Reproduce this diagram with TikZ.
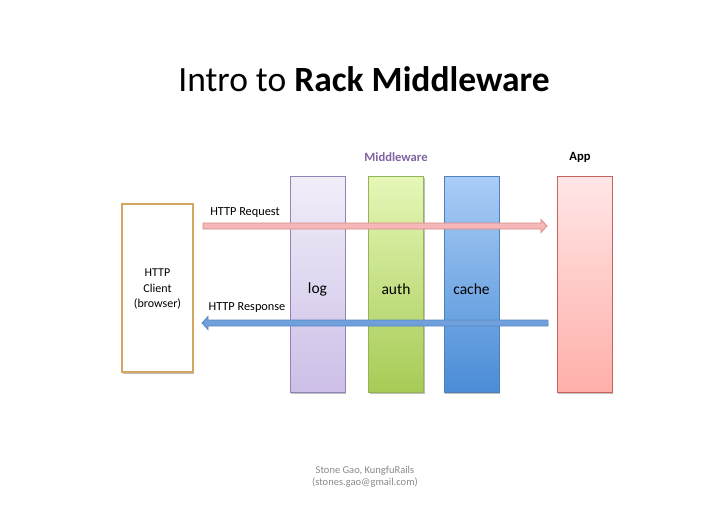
\documentclass[tikz,border=0pt]{standalone}
\usepackage{fontspec}
\setmainfont{Carlito}
\usetikzlibrary{shadows,calc}
\definecolor{clientborder}{HTML}{D5A562}
\definecolor{logtop}{HTML}{F1EEF9}
\definecolor{logbot}{HTML}{CDBFE7}
\definecolor{logborder}{HTML}{9483B8}
\definecolor{authtop}{HTML}{E6F7B8}
\definecolor{authbot}{HTML}{A6CB55}
\definecolor{authborder}{HTML}{93B557}
\definecolor{cachetop}{HTML}{AACDF6}
\definecolor{cachebot}{HTML}{4A8CD6}
\definecolor{cacheborder}{HTML}{4F81BD}
\definecolor{apptop}{HTML}{FFE6E6}
\definecolor{appbot}{HTML}{FFAFA9}
\definecolor{appborder}{HTML}{C8625E}
\definecolor{reqfill}{HTML}{F5B7B7}
\definecolor{reqborder}{HTML}{D78A88}
\definecolor{resfill}{HTML}{6FA0DC}
\definecolor{resborder}{HTML}{5A88C2}
\definecolor{mwtext}{HTML}{8064A2}
\definecolor{foot}{HTML}{8A8A8A}
\tikzset{
  shade/.style={drop shadow={shadow xshift=1.2pt, shadow yshift=-1.5pt, opacity=0.25, fill=black}},
  column/.style={rectangle, minimum width=55pt, minimum height=216pt, inner sep=0pt, line width=0.9pt, shade},
  collbl/.style={font=\fontsize{15.5}{18}\selectfont, inner sep=0pt},
  clientbox/.style={rectangle, draw=clientborder, fill=white, line width=1.8pt, minimum width=71pt, minimum height=168pt, align=center, font=\fontsize{12}{15.5}\selectfont, shade},
  small/.style={font=\fontsize{12.3}{14}\selectfont},
  hdr/.style={font=\bfseries\fontsize{12.6}{15}\selectfont},
  reqarrow/.style={fill=reqfill, draw=reqborder, line width=0.8pt, line join=miter},
  resarrow/.style={fill=resfill, draw=resborder, line width=0.8pt, line join=miter}
}
\begin{document}
\begin{tikzpicture}[x=1pt,y=-1pt]
\useasboundingbox (0,0) rectangle (728,514);
\fill[white] (0,0) rectangle (728,514);
\node[font=\fontsize{35.5}{40}\selectfont] (title) at (364,79) {Intro to \textbf{Rack Middleware}};
\node[clientbox] (client) at (157.5,288) {};
\node[align=center, font=\fontsize{12}{15.5}\selectfont] (clienttxt) at (157.5,289) {HTTP\\Client\\(browser)};
\node[column, draw=logborder, top color=logtop, bottom color=logbot] (log) at (317.5,284) {};
\node[column, draw=authborder, top color=authtop, bottom color=authbot] (auth) at (396,284) {};
\node[column, draw=cacheborder, top color=cachetop, bottom color=cachebot] (cache) at (471.5,284) {};
\node[column, draw=appborder, top color=apptop, bottom color=appbot] (app) at (584.5,284) {};
\node[collbl] (loglbl) at (317.5,289) {log};
\node[collbl] (authlbl) at (396,289) {auth};
\node[collbl] (cachelbl) at (471.5,289) {cache};
\node[hdr, text=mwtext] (mw) at (396,157) {Middleware};
\node[hdr] (applbl) at (580,157) {App};
\node[small] (reqlbl) at (245,213) {HTTP Request};
\node[small] (reslbl) at (247,308) {HTTP Response};
\coordinate (rs) at (203,226);
\coordinate (re) at (547,226);
\coordinate (ps) at (548,323);
\coordinate (pe) at (202,323);
\draw[reqarrow] ($(rs)+(0,-3)$) -- ($(re)+(-6,-3)$) -- ($(re)+(-6,-6.5)$) -- (re) -- ($(re)+(-6,6.5)$) -- ($(re)+(-6,3)$) -- ($(rs)+(0,3)$) -- cycle;
\draw[resarrow] ($(ps)+(0,-3)$) -- ($(pe)+(6,-3)$) -- ($(pe)+(6,-6.5)$) -- (pe) -- ($(pe)+(6,6.5)$) -- ($(pe)+(6,3)$) -- ($(ps)+(0,3)$) -- cycle;
\node[text=foot, align=center, font=\fontsize{10.5}{12.5}\selectfont] (footer) at (365,477) {Stone Gao, KungfuRails\\(stones.gao@gmail.com)};
\end{tikzpicture}
\end{document}
